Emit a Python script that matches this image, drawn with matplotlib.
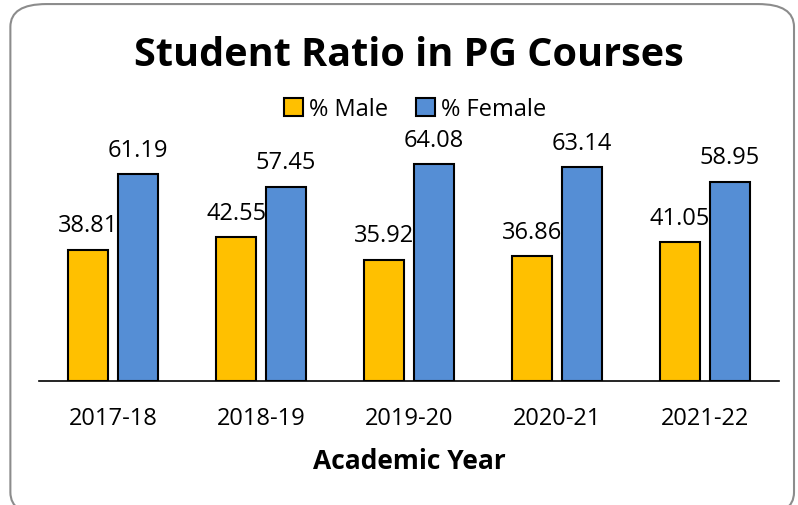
import matplotlib.pyplot as plt
import numpy as np
from matplotlib.patches import FancyBboxPatch

years = ["2017-18", "2018-19", "2019-20", "2020-21", "2021-22"]
male = [38.81, 42.55, 35.92, 36.86, 41.05]
female = [61.19, 57.45, 64.08, 63.14, 58.95]

plt.rcParams['font.family'] = ['Open Sans', 'DejaVu Sans']

fig = plt.figure(figsize=(7.98, 5.06), dpi=100)
# rounded outer border
fig.patches.append(FancyBboxPatch((0.013, -0.02), 0.982, 1.01, transform=fig.transFigure,
                                  boxstyle="round,pad=0,rounding_size=0.045",
                                  fc="white", ec="#8c8c8c", lw=1.5, zorder=-1))

ax = fig.add_axes([0.049, 0.245, 0.927, 0.498])
x = np.arange(len(years))
w = 0.27
off = 0.168
b1 = ax.bar(x - off, male, w, color="#FFC000", edgecolor="black", lw=1.5, label="% Male")
b2 = ax.bar(x + off, female, w, color="#558ED5", edgecolor="black", lw=1.5, label="% Female")

for bars, vals in ((b1, male), (b2, female)):
    for r, v in zip(bars, vals):
        ax.annotate(f"{v:.2f}", (r.get_x() + r.get_width() / 2, v), xytext=(0, 9),
                    textcoords="offset points", ha="center", va="bottom", fontsize=17)

ax.set_xlim(-0.5, len(years) - 0.5)
ax.set_ylim(0, 74.5)
ax.set_xticks(x)
ax.set_xticklabels(years, fontsize=17)
ax.tick_params(axis="x", length=0, pad=18)
ax.set_yticks([])
for s in ["top", "right", "left"]:
    ax.spines[s].set_visible(False)
ax.spines["bottom"].set_linewidth(1.2)
ax.set_xlabel("Academic Year", fontsize=19, fontweight="bold", labelpad=12)

fig.text(0.512, 0.89, "Student Ratio in PG Courses", ha="center", va="center",
         fontsize=28.5, fontweight="bold")
fig.legend(loc="center", bbox_to_anchor=(0.52, 0.782), ncol=2, frameon=False,
           fontsize=17, handlelength=0.8, handleheight=0.8, handletextpad=0.25,
           columnspacing=1.2)

fig.savefig("out.png", dpi=100)
